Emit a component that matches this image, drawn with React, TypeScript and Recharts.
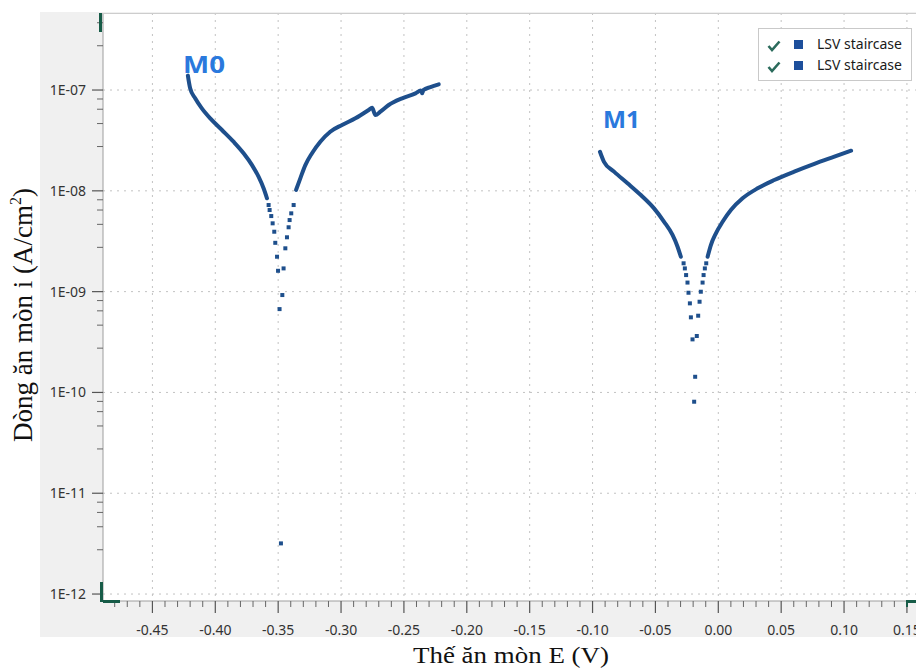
import React from 'react';
import { ComposedChart, Line, Scatter, XAxis, YAxis, CartesianGrid, Legend } from 'recharts';

// ---- data: [E (V), i (A/cm2)] ----
const m0Cathodic: [number, number][] = [
  [-0.4218, 1.39e-7], [-0.42, 1.04e-7], [-0.416, 8.28e-8], [-0.4107, 6.58e-8],
  [-0.404, 5.23e-8], [-0.3947, 4.01e-8], [-0.3855, 3.07e-8], [-0.3775, 2.36e-8],
  [-0.3708, 1.8e-8], [-0.3656, 1.38e-8], [-0.3616, 1.06e-8], [-0.3589, 8.43e-9],
];
const m0Sparse: [number, number][] = [
  [-0.3576, 7.23e-9], [-0.3568, 6.45e-9], [-0.3555, 5.62e-9], [-0.3544, 4.76e-9],
  [-0.3531, 3.93e-9], [-0.3523, 3.05e-9], [-0.3509, 2.22e-9], [-0.3501, 1.61e-9],
  [-0.3489, 6.71e-10], [-0.3478, 3.18e-12], [-0.3467, 9.25e-10], [-0.3457, 1.7e-9],
  [-0.3443, 2.69e-9], [-0.343, 3.46e-9], [-0.3417, 4.35e-9], [-0.3409, 5.13e-9],
  [-0.3396, 5.98e-9], [-0.3377, 7.23e-9],
];
const m0Anodic: [number, number][] = [
  [-0.3358, 1.02e-8], [-0.3324, 1.33e-8], [-0.3284, 1.8e-8], [-0.3231, 2.36e-8],
  [-0.3165, 3.07e-8], [-0.3086, 3.86e-8], [-0.2992, 4.5e-8], [-0.2886, 5.24e-8],
  [-0.278, 6.34e-8], [-0.2753, 6.67e-8], [-0.2727, 5.65e-8], [-0.2687, 6.1e-8],
  [-0.2621, 7.1e-8], [-0.2514, 8.28e-8], [-0.2408, 9.27e-8], [-0.2365, 9.9e-8],
  [-0.2355, 9.3e-8], [-0.2345, 1.0e-7], [-0.2289, 1.07e-7], [-0.2223, 1.14e-7],
];
const m1Cathodic: [number, number][] = [
  [-0.0941, 2.44e-8], [-0.0909, 1.94e-8], [-0.0829, 1.55e-8], [-0.0722, 1.19e-8],
  [-0.0616, 9.08e-9], [-0.0511, 6.7e-9], [-0.0431, 4.93e-9], [-0.0364, 3.65e-9],
  [-0.0324, 2.79e-9], [-0.0298, 2.22e-9],
];
const m1Sparse: [number, number][] = [
  [-0.0276, 1.91e-9], [-0.0266, 1.7e-9], [-0.0256, 1.46e-9], [-0.0245, 1.23e-9],
  [-0.0237, 9.75e-10], [-0.0226, 7.65e-10], [-0.0218, 5.56e-10], [-0.0205, 3.36e-10],
  [-0.0192, 8.09e-11], [-0.0184, 1.43e-10], [-0.0171, 3.63e-10], [-0.016, 5.77e-10],
  [-0.0149, 7.94e-10], [-0.0139, 9.98e-10], [-0.0125, 1.23e-9], [-0.0117, 1.46e-9],
  [-0.0107, 1.7e-9], [-0.0096, 1.91e-9],
];
const m1Anodic: [number, number][] = [
  [-0.0085, 2.22e-9], [-0.0059, 2.9e-9], [-0.0019, 3.79e-9], [0.0034, 4.93e-9],
  [0.01, 6.45e-9], [0.0193, 8.43e-9], [0.0313, 1.06e-8], [0.0445, 1.28e-8],
  [0.0604, 1.55e-8], [0.0764, 1.85e-8], [0.0923, 2.18e-8], [0.1056, 2.5e-8],
];

const seriesLabels = ['LSV staircase', 'LSV staircase'];
const curveLabels = ['M0', 'M1'];

const xMajorTicks = [-0.45, -0.4, -0.35, -0.3, -0.25, -0.2, -0.15, -0.1, -0.05, 0, 0.05, 0.1, 0.15];
const xTickLabels = ['-0.45', '-0.40', '-0.35', '-0.30', '-0.25', '-0.20', '-0.15', '-0.10', '-0.05', '0.00', '0.05', '0.10', '0.15'];
const xMinorSteps = [0.01, 0.02, 0.03, 0.04];
const yMajorTicks = [1e-12, 1e-11, 1e-10, 1e-9, 1e-8, 1e-7];
const yTickLabels = ['1E-12', '1E-11', '1E-10', '1E-09', '1E-08', '1E-07'];
const yMinorMantissas = [2.75, 4.65, 6.45, 8.15];

const X_DOMAIN: [number, number] = [-0.4893, 0.1763];
const Y_DOMAIN: [number, number] = [8.53e-13, 5.81e-7];

const xMinorTicks: number[] = [];
[-0.5, ...xMajorTicks].forEach((m) => {
  xMinorSteps.forEach((s) => {
    const v = Math.round((m + s) * 1000) / 1000;
    if (v > X_DOMAIN[0] && v < X_DOMAIN[1]) xMinorTicks.push(v);
  });
});
const yMinorTicks: number[] = [];
yMajorTicks.forEach((d) => {
  yMinorMantissas.forEach((m) => {
    const v = d * m;
    if (v < Y_DOMAIN[1]) yMinorTicks.push(v);
  });
});

const toPts = (a: [number, number][]) => a.map(([x, y]) => ({ x, y }));

const CURVE = '#1e4f8c';
const GREEN = '#175c48';
const TICK_FONT = "'Noto Sans', 'Open Sans', sans-serif";
const SERIF = "'Liberation Serif', 'Times New Roman', serif";

const XTick = (props: any) => {
  const { x, y, payload } = props;
  const idx = xMajorTicks.findIndex((v) => Math.abs(v - payload.value) < 1e-6);
  if (idx < 0) {
    return <line x1={x} y1={y} x2={x} y2={y + 6} stroke="#666" strokeWidth={1} />;
  }
  return (
    <g>
      <line x1={x} y1={y} x2={x} y2={y + 12} stroke="#555" strokeWidth={1.2} />
      <text x={x} y={y + 34} textAnchor="middle" fontFamily={TICK_FONT} fontSize={14} fill="#333">
        {xTickLabels[idx]}
      </text>
    </g>
  );
};

const YTick = (props: any) => {
  const { x, y, payload } = props;
  const idx = yMajorTicks.findIndex((v) => Math.abs(v - payload.value) / v < 1e-6);
  if (idx < 0) {
    return <line x1={x - 6} y1={y} x2={x} y2={y} stroke="#666" strokeWidth={1} />;
  }
  return (
    <g>
      <line x1={x - 11} y1={y} x2={x} y2={y} stroke="#555" strokeWidth={1.2} />
      <text x={x - 17} y={y + 5} textAnchor="end" fontFamily={TICK_FONT} fontSize={14} fill="#333">
        {yTickLabels[idx]}
      </text>
    </g>
  );
};

const DotShape = (props: any) => {
  const { cx, cy } = props;
  if (cx == null || cy == null) return null;
  return <rect x={cx - 2} y={cy - 2} width={4} height={4} fill={CURVE} />;
};

const LegendBox = () => (
  <div
    style={{
      width: 154,
      height: 53,
      boxSizing: 'border-box',
      border: '1px solid #c9c9c9',
      background: '#fff',
      position: 'relative',
      fontFamily: TICK_FONT,
    }}
  >
    {seriesLabels.map((label, i) => (
      <div key={i} style={{ position: 'absolute', left: 0, top: 6 + i * 21, height: 20, width: 152 }}>
        <svg width={14} height={12} style={{ position: 'absolute', left: 8, top: 5 }}>
          <path d="M1.5 6 L5 10 L12.5 1.5" fill="none" stroke="#2b6b5c" strokeWidth={2.6} />
        </svg>
        <div style={{ position: 'absolute', left: 35, top: 5, width: 9, height: 9, background: '#1d4f9c' }} />
        <div style={{ position: 'absolute', left: 58, top: 0, fontSize: 14, lineHeight: '18px', color: '#1a1a1a', whiteSpace: 'nowrap' }}>
          {label}
        </div>
      </div>
    ))}
  </div>
);

export default function App() {
  return (
    <div style={{ position: 'absolute', left: 0, top: 0, width: 916, height: 668, overflow: 'hidden', background: '#fff' }}>
      <div style={{ position: 'absolute', left: 40, top: 12, width: 900, height: 625, background: '#f0f0f0' }} />
      <div style={{ position: 'absolute', left: 0, top: 0 }}>
        <ComposedChart width={960} height={668} margin={{ top: 13, right: 20, bottom: 27, left: 0 }}>
          <CartesianGrid
            stroke="#c2c2c2"
            strokeDasharray="2 5"
            fill="#ffffff"
            horizontalValues={yMajorTicks}
            verticalValues={xMajorTicks}
          />
          <XAxis
            dataKey="x"
            type="number"
            domain={X_DOMAIN}
            allowDataOverflow
            ticks={[...xMajorTicks, ...xMinorTicks]}
            interval={0}
            tick={<XTick />}
            tickSize={0}
            tickMargin={0}
            tickLine={false}
            axisLine={{ stroke: '#9e9e9e' }}
            height={40}
          />
          <YAxis
            dataKey="y"
            type="number"
            scale="log"
            domain={Y_DOMAIN}
            allowDataOverflow
            ticks={[...yMajorTicks, ...yMinorTicks]}
            interval={0}
            tick={<YTick />}
            tickSize={0}
            tickMargin={0}
            tickLine={false}
            axisLine={{ stroke: '#9e9e9e' }}
            width={103}
          />
          <Legend
            layout="vertical"
            align="center"
            verticalAlign="middle"
            wrapperStyle={{ left: 758, top: 28, width: 154, height: 53 }}
            content={() => <LegendBox />}
          />
          <Line data={toPts(m0Cathodic)} dataKey="y" type="monotone" stroke={CURVE} strokeWidth={4} strokeLinecap="round" dot={false} isAnimationActive={false} name={seriesLabels[0]} />
          <Line data={toPts(m0Anodic)} dataKey="y" type="monotone" stroke={CURVE} strokeWidth={4} strokeLinecap="round" dot={false} isAnimationActive={false} name={seriesLabels[0]} />
          <Scatter data={toPts(m0Sparse)} dataKey="y" shape={<DotShape />} isAnimationActive={false} name={seriesLabels[0]} />
          <Line data={toPts(m1Cathodic)} dataKey="y" type="monotone" stroke={CURVE} strokeWidth={4} strokeLinecap="round" dot={false} isAnimationActive={false} name={seriesLabels[1]} />
          <Line data={toPts(m1Anodic)} dataKey="y" type="monotone" stroke={CURVE} strokeWidth={4} strokeLinecap="round" dot={false} isAnimationActive={false} name={seriesLabels[1]} />
          <Scatter data={toPts(m1Sparse)} dataKey="y" shape={<DotShape />} isAnimationActive={false} name={seriesLabels[1]} />
        </ComposedChart>
      </div>
      <svg width={916} height={668} style={{ position: 'absolute', left: 0, top: 0, pointerEvents: 'none' }}>
        <line x1={103} y1={13.5} x2={916} y2={13.5} stroke="#cdcdcd" strokeWidth={1} />
        <rect x={99} y={13} width={3} height={19} fill={GREEN} />
        <rect x={100} y={582} width={3} height={20} fill={GREEN} />
        <rect x={103} y={600} width={17} height={3} fill={GREEN} />
        <rect x={906} y={600} width={10} height={3} fill={GREEN} />
        <rect x={906} y={600} width={2} height={7} fill={GREEN} />
        <text x={183} y={73} fontFamily="'Open Sans', 'Noto Sans', sans-serif" fontWeight={700} fontSize={23} fill="#2a79dd" textLength={42} lengthAdjust="spacingAndGlyphs">
          {curveLabels[0]}
        </text>
        <text x={603} y={128} fontFamily="'Open Sans', 'Noto Sans', sans-serif" fontWeight={700} fontSize={23} fill="#2a79dd" textLength={37} lengthAdjust="spacingAndGlyphs">
          {curveLabels[1]}
        </text>
        <text x={413} y={663} fontFamily={SERIF} fontSize={23} fill="#111" textLength={196} lengthAdjust="spacingAndGlyphs">
          Thế ăn mòn E (V)
        </text>
        <text transform="translate(32,442) rotate(-90)" fontFamily={SERIF} fontSize={27} fill="#111">
          Dòng ăn mòn i (A/cm<tspan dy={-11} fontSize={16}>2</tspan><tspan dy={11}>)</tspan>
        </text>
      </svg>
    </div>
  );
}
